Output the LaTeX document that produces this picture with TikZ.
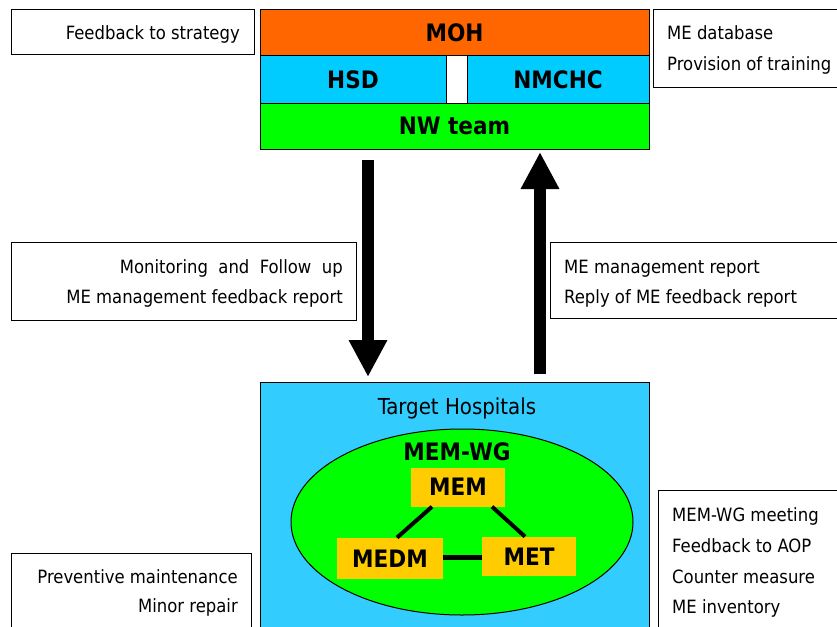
\documentclass[tikz,border=0pt]{standalone}
\usepackage{fontspec}
\setmainfont{DejaVu Sans Condensed}
\usetikzlibrary{arrows.meta,shapes.geometric}
\definecolor{mohor}{HTML}{FF6600}
\definecolor{hsdcy}{HTML}{00CCFF}
\definecolor{nwgr}{HTML}{00FF00}
\definecolor{tgtcy}{HTML}{33CCFF}
\definecolor{memyl}{HTML}{FFCC00}
\begin{document}
\begin{tikzpicture}[x=1pt,y=-1pt,
  box/.style={draw=black,line width=1pt,rectangle,inner sep=0pt},
  txt/.style={inner sep=0pt,yshift=-4pt,font=\fontsize{18.3}{22}\selectfont},
  bigtxt/.style={inner sep=0pt,yshift=-5pt,font=\fontsize{22}{26}\selectfont},
  boldtxt/.style={font=\fontsize{24}{28}\selectfont\bfseries},
  ybox/.style={rectangle,fill=memyl,inner sep=0pt,font=\fontsize{24}{28}\selectfont\bfseries},
  flowarrow/.style={line width=12pt,-{Triangle[width=36pt,length=37pt]}},
  link/.style={line width=4pt}]
\useasboundingbox (0,0) rectangle (837,626);
\clip (0,0) rectangle (837,626);

% top left box
\node[box,fill=white,minimum width=243pt,minimum height=45pt] (fbs) at (132.5,32.5) {};
\node[txt,anchor=mid east] (fbst) at (240,33) {Feedback to strategy};

% MOH stack
\node[box,fill=mohor,minimum width=389pt,minimum height=46pt,boldtxt] (moh) at (454.5,33) {MOH};
\node[box,fill=hsdcy,minimum width=186pt,minimum height=47pt,boldtxt] (hsd) at (353,79.5) {HSD};
\node[box,fill=white,minimum width=21pt,minimum height=47pt] (gap) at (456.5,79.5) {};
\node[box,fill=hsdcy,minimum width=182pt,minimum height=47pt,boldtxt] (nmchc) at (558,79.5) {NMCHC};
\node[box,fill=nwgr,minimum width=389pt,minimum height=46pt,boldtxt] (nw) at (454.5,126) {NW team};

% top right box
\node[box,fill=white,minimum width=200pt,minimum height=77pt] (med) at (753,48.5) {};
\node[txt,anchor=mid west] (medt1) at (667,33) {ME database};
\node[txt,anchor=mid west] (medt2) at (667,64) {Provision of training};

% middle boxes
\node[box,fill=white,minimum width=345pt,minimum height=78pt] (mon) at (183.5,281) {};
\node[txt,anchor=mid east] (mont1) at (343,267) {Monitoring\ \ and\ \ Follow\ \ up};
\node[txt,anchor=mid east] (mont2) at (343,297) {ME management feedback report};

\node[box,fill=white,minimum width=300pt,minimum height=76pt] (rep) at (700,280) {};
\node[txt,anchor=mid west] (rept1) at (564,267) {ME management report};
\node[txt,anchor=mid west] (rept2) at (564,297) {Reply of ME feedback report};

% arrows
\coordinate (dtop) at (368,160);
\coordinate (dbot) at (368,377);
\coordinate (ubot) at (540,374);
\coordinate (utop) at (540,152);
\draw[flowarrow] (dtop) -- (dbot);
\draw[flowarrow] (ubot) -- (utop);

% target hospitals
\node[box,fill=tgtcy,minimum width=389pt,minimum height=270pt] (tgt) at (454.5,517) {};
\node[bigtxt,anchor=mid] (tgtt) at (457,407) {Target Hospitals};
\node[ellipse,draw=black,line width=1pt,fill=nwgr,minimum width=342pt,minimum height=186pt,inner sep=0pt] (wg) at (462,522) {};
\node[boldtxt,inner sep=0pt] (wgt) at (457,452) {MEM-WG};
\node[ybox,minimum width=94pt,minimum height=39pt] (mem) at (458,487) {MEM};
\node[ybox,minimum width=106pt,minimum height=41pt] (medm) at (390,558.3) {MEDM};
\node[ybox,minimum width=94pt,minimum height=39pt] (met) at (529,556.3) {MET};
\draw[link] ([xshift=-26pt]mem.south) -- ([xshift=7pt]medm.north);
\draw[link] ([xshift=34pt]mem.south) -- ([xshift=-4pt]met.north);
\draw[link,line width=5pt] ([yshift=-1pt]met.west -| medm.east) -- ([yshift=-1pt]met.west);

% bottom boxes
\node[box,fill=white,minimum width=240pt,minimum height=100pt] (pm) at (131,603) {};
\node[txt,anchor=mid east] (pmt1) at (238,577) {Preventive maintenance};
\node[txt,anchor=mid east] (pmt2) at (238,606) {Minor repair};

\node[box,fill=white,minimum width=200pt,minimum height=160pt] (mw) at (758,570) {};
\node[txt,anchor=mid west] (mwt1) at (672,515) {MEM-WG meeting};
\node[txt,anchor=mid west] (mwt2) at (672,546) {Feedback to AOP};
\node[txt,anchor=mid west] (mwt3) at (672,577) {Counter measure};
\node[txt,anchor=mid west] (mwt4) at (672,607) {ME inventory};
\end{tikzpicture}
\end{document}
